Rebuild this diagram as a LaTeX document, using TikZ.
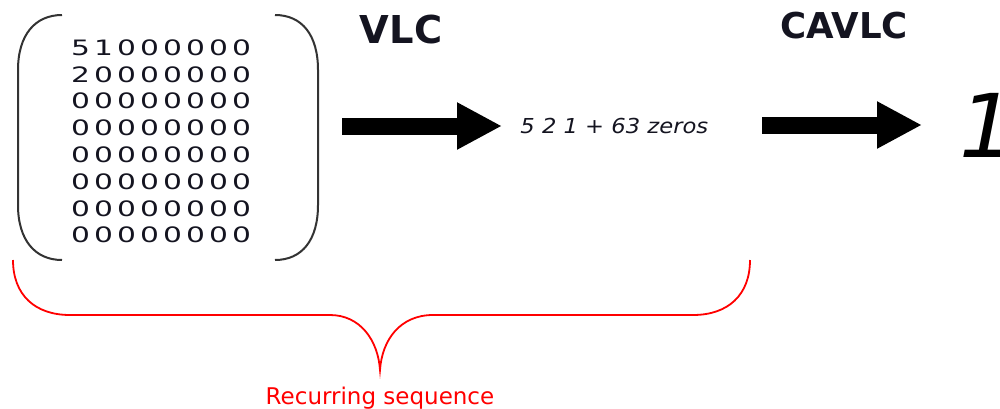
\documentclass[tikz,border=0pt]{standalone}
\usepackage{fontspec}
\setmainfont{DejaVu Sans}
\usetikzlibrary{arrows.meta}
\definecolor{ink}{HTML}{141420}
\definecolor{paren}{HTML}{333333}
\begin{document}
\begin{tikzpicture}[x=0.5pt,y=-0.5pt,
  digit/.style={inner sep=0pt,font=\fontsize{10.6}{12}\selectfont,text=ink},
  title/.style={inner sep=0pt,anchor=base,font=\bfseries,text=ink},
  bigarrow/.style={line width=8.5pt,-{Triangle[length=22.5pt,width=22pt]}},
  parenline/.style={draw=paren,line width=1pt},
  brace/.style={draw=red,line width=0.9pt}]
\clip (0,0) rectangle (1000,408);
% matrix digits
\foreach \r/\row in {0/{5,1,0,0,0,0,0,0},1/{2,0,0,0,0,0,0,0},2/{0,0,0,0,0,0,0,0},3/{0,0,0,0,0,0,0,0},4/{0,0,0,0,0,0,0,0},5/{0,0,0,0,0,0,0,0},6/{0,0,0,0,0,0,0,0},7/{0,0,0,0,0,0,0,0}}{
  \foreach \d [count=\c from 0] in \row {
    \node[digit] (m-\r-\c) at ({80.5+23*\c},{47.5+26.8*\r}) {\scalebox{1.4}[1]{\d}};
  }
}
% parentheses
\path[parenline] (62,15) .. controls (35,15) and (18,35) .. (18,70) -- (18,205) .. controls (18,240) and (35,260) .. (62,260);
\path[parenline] (275,15) .. controls (302,15) and (318,35) .. (318,70) -- (318,205) .. controls (318,240) and (302,260) .. (275,260);
% titles
\node[title,font=\fontsize{19.2}{22}\selectfont\bfseries] (vlc) at (401,43) {VLC};
\node[title,font=\fontsize{17.8}{21}\selectfont\bfseries] (cavlc) at (844,38) {CAVLC};
% sequence text
\node[inner sep=0pt,anchor=base west,text=ink,font=\fontsize{10.3}{12}\selectfont\itshape] (seq) at (520,133) {\scalebox{1.1}[1]{5 2 1 + 63 zeros}};
\node[inner sep=0pt,anchor=base west,text=black] (one) at (959,157) {\fontsize{44}{50}\selectfont\itshape 1};
% arrows
\coordinate (a1s) at (342,126);
\coordinate (a1e) at (502,126);
\coordinate (a2s) at (762,125);
\coordinate (a2e) at (922,125);
\draw[bigarrow] (a1s) -- (a1e);
\draw[bigarrow] (a2s) -- (a2e);
% brace
\path[brace] (13,260) .. controls (13,295) and (35,315) .. (70,315) -- (330,315) .. controls (360,315) and (378,340) .. (380,370) .. controls (382,340) and (400,315) .. (433,315) -- (693,315) .. controls (728,315) and (750,295) .. (750,260);
\node[inner sep=0pt,anchor=base,text=red,font=\fontsize{11.5}{14}\selectfont] (rec) at (380,404) {Recurring sequence};
\end{tikzpicture}
\end{document}
